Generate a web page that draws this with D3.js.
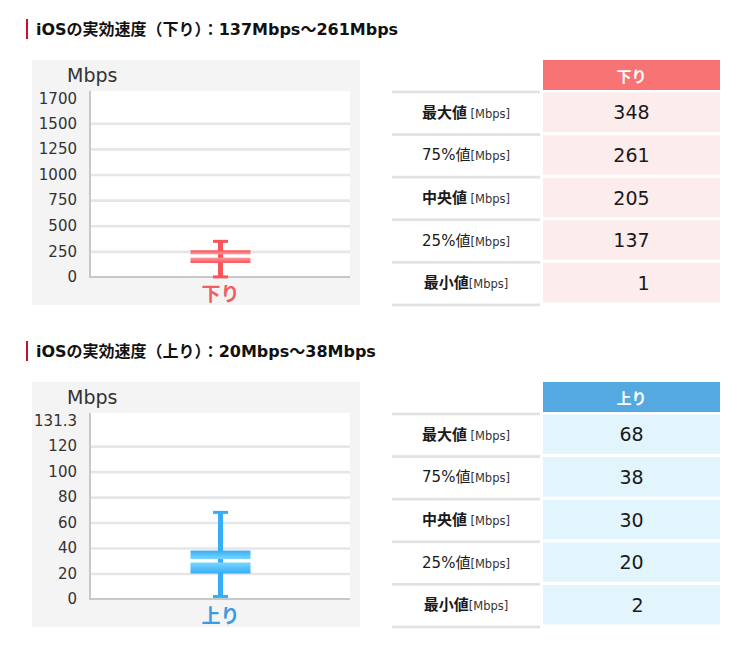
<!DOCTYPE html>
<html>
<head>
<meta charset="utf-8">
<script src="https://cdn.jsdelivr.net/npm/d3@7"></script>
<style>
  html, body { margin: 0; padding: 0; background: #fff; }
  svg { display: block; }
</style>
</head>
<body>
<div id="chart"></div>
<script>
// values
const statNames = ["最大値", "75%値", "中央値", "25%値", "最小値"];
const statUnits = [" [Mbps]", "[Mbps]", " [Mbps]", "[Mbps]", "[Mbps]"];
const directions = ["下り", "上り"];
const downStats = [348, 261, 205, 137, 1];
const upStats = [68, 38, 30, 20, 2];
const downTicks = [0, 250, 500, 750, 1000, 1250, 1500];
const upTicks = [0, 20, 40, 60, 80, 100, 120];
const downTopLabel = "1700";
const upTopLabel = "131.3";
const downAxisMax = 1815;
const upAxisMax = 146;

const width = 745;
const height = 654;

const svg = d3.select("#chart")
    .append("svg")
    .attr("width", width)
    .attr("height", height);

const defs = svg.append("defs");

const latin = "'DejaVu Sans', 'Noto Sans CJK JP', sans-serif";
const cjk = "'Noto Sans CJK JP', sans-serif";
const boldStats = new Set(["最大値", "中央値", "最小値"]);

const sections = [
    { dir: directions[0], stats: downStats, ticks: downTicks, top: downTopLabel, max: downAxisMax,
      dy: 0, head: "#f87373", cell: "#fdecec", dark: "#f7555b", light: "#ff9799", label: "#f25d61", key: "down" },
    { dir: directions[1], stats: upStats, ticks: upTicks, top: upTopLabel, max: upAxisMax,
      dy: 322, head: "#55a9e1", cell: "#e2f4fc", dark: "#36adf7", light: "#78d6ff", label: "#3d9be2", key: "up" }
];

// split a string into ascii / non-ascii runs so each gets its own font
const runs = str => str.match(/[\x00-\x7f]+|[^\x00-\x7f]+/g);

sections.forEach(s => {
    const g = svg.append("g").attr("transform", `translate(0,${s.dy})`);
    const [max, q3, med, q1, min] = s.stats;

    // title
    g.append("rect")
        .attr("x", 26).attr("y", 19)
        .attr("width", 2).attr("height", 20)
        .style("fill", "#c8102e");
    g.append("text")
        .attr("x", 36).attr("y", 34.5)
        .style("font-weight", "bold")
        .style("font-size", "16px")
        .style("fill", "#111")
        .selectAll("tspan")
        .data(runs(`iOSの実効速度（${s.dir}）：${q1}Mbps～${q3}Mbps`))
        .join("tspan")
        .style("font-family", d => /^[\x00-\x7f]/.test(d) ? latin : cjk)
        .text(d => d);

    // chart panel
    g.append("rect")
        .attr("x", 32).attr("y", 60)
        .attr("width", 328).attr("height", 245)
        .style("fill", "#f4f4f4");

    const plotTop = 91, plotBottom = 277, plotLeft = 91, plotRight = 350;
    g.append("rect")
        .attr("x", plotLeft).attr("y", plotTop)
        .attr("width", plotRight - plotLeft).attr("height", plotBottom - plotTop)
        .style("fill", "#fff");

    g.append("text")
        .attr("x", 67).attr("y", 82)
        .style("font-family", latin)
        .style("font-size", "19px")
        .style("fill", "#333")
        .text("Mbps");

    const y = d3.scaleLinear().domain([0, s.max]).range([plotBottom, plotTop]);
    const x = d3.scaleBand().domain([s.dir]).range([plotLeft, plotRight]);

    const axis = g.append("g")
        .attr("transform", `translate(${plotLeft},0)`)
        .call(d3.axisLeft(y)
            .tickValues(s.ticks)
            .tickFormat(d3.format("d"))
            .tickSize(-(plotRight - plotLeft))
            .tickPadding(14));
    axis.select(".domain").remove();
    axis.selectAll(".tick line")
        .style("stroke", "#e6e6e6")
        .style("stroke-width", 2.6)
        .style("display", d => d === 0 ? "none" : null);
    axis.selectAll(".tick text")
        .style("font-family", latin)
        .style("font-size", "15px")
        .style("fill", "#333");

    g.append("text")
        .attr("x", plotLeft - 14).attr("y", y(s.max) + 7.5)
        .attr("text-anchor", "end")
        .attr("dominant-baseline", "central")
        .style("font-family", latin)
        .style("font-size", "15px")
        .style("fill", "#333")
        .text(s.top);

    // axis lines
    g.append("line")
        .attr("x1", plotLeft - 1).attr("x2", plotLeft - 1)
        .attr("y1", plotTop).attr("y2", plotBottom + 1)
        .style("stroke", "#c8c8c8").style("stroke-width", 2);
    g.append("line")
        .attr("x1", plotLeft - 2).attr("x2", plotRight)
        .attr("y1", plotBottom).attr("y2", plotBottom)
        .style("stroke", "#c8c8c8").style("stroke-width", 2);

    // box gradients
    const gradTop = defs.append("linearGradient")
        .attr("id", `grad-top-${s.key}`).attr("x1", 0).attr("y1", 0).attr("x2", 0).attr("y2", 1);
    gradTop.append("stop").attr("offset", "0%").attr("stop-color", s.dark);
    gradTop.append("stop").attr("offset", "100%").attr("stop-color", s.light);
    const gradBot = defs.append("linearGradient")
        .attr("id", `grad-bot-${s.key}`).attr("x1", 0).attr("y1", 0).attr("x2", 0).attr("y2", 1);
    gradBot.append("stop").attr("offset", "0%").attr("stop-color", s.light);
    gradBot.append("stop").attr("offset", "100%").attr("stop-color", s.dark);

    const cx = x(s.dir) + x.bandwidth() / 2;
    const boxW = 60, capW = 15, gap = 1.7;

    // whisker
    g.append("rect")
        .attr("x", cx - 2.5).attr("y", y(max))
        .attr("width", 5).attr("height", y(min) - y(max))
        .style("fill", s.dark);
    [max, min].forEach(v => {
        g.append("rect")
            .attr("x", cx - capW / 2).attr("y", y(v) - 1.5)
            .attr("width", capW).attr("height", 3)
            .style("fill", s.dark);
    });

    // box halves
    g.append("rect")
        .attr("x", cx - boxW / 2).attr("y", y(q3))
        .attr("width", boxW).attr("height", Math.max(1, y(med) - gap - y(q3)))
        .style("fill", `url(#grad-top-${s.key})`);
    g.append("rect")
        .attr("x", cx - boxW / 2).attr("y", y(med) + gap)
        .attr("width", boxW).attr("height", Math.max(1, y(q1) - y(med) - gap))
        .style("fill", `url(#grad-bot-${s.key})`);

    g.append("text")
        .attr("x", cx).attr("y", 292)
        .attr("text-anchor", "middle")
        .attr("dominant-baseline", "central")
        .style("font-family", cjk)
        .style("font-weight", "bold")
        .style("font-size", "19px")
        .style("fill", s.label)
        .text(s.dir);

    // table
    const labelX0 = 392, labelX1 = 540, valX0 = 543, valX1 = 720;
    const valCx = (valX0 + valX1) / 2;
    g.append("rect")
        .attr("x", valX0).attr("y", 60)
        .attr("width", valX1 - valX0).attr("height", 30)
        .style("fill", s.head);
    g.append("text")
        .attr("x", valCx).attr("y", 75)
        .attr("text-anchor", "middle")
        .attr("dominant-baseline", "central")
        .style("font-family", cjk)
        .style("font-weight", "bold")
        .style("font-size", "15px")
        .style("fill", "#fff")
        .text(s.dir);

    const rows = d3.scaleBand().domain(d3.range(statNames.length)).range([92, 305]);
    const digits = d3.max(s.stats, v => String(v).length);

    g.selectAll(".sep")
        .data(d3.range(statNames.length + 1))
        .join("rect")
        .attr("x", labelX0)
        .attr("y", i => 92 + i * rows.step() - 1.4)
        .attr("width", labelX1 - labelX0)
        .attr("height", 2.7)
        .style("fill", "#e2e2e2");

    g.selectAll(".cell")
        .data(s.stats)
        .join("rect")
        .attr("x", valX0)
        .attr("y", (d, i) => rows(i) + 0.6)
        .attr("width", valX1 - valX0)
        .attr("height", rows.bandwidth() - 3.2)
        .style("fill", s.cell);

    g.selectAll(".val")
        .data(s.stats)
        .join("text")
        .attr("x", valCx)
        .attr("y", (d, i) => rows(i) + rows.bandwidth() / 2 - 1)
        .attr("text-anchor", "middle")
        .attr("dominant-baseline", "central")
        .style("font-family", latin)
        .style("font-size", "19px")
        .style("fill", "#1a1a1a")
        .text(d => String(d).padStart(digits, "\u2007"));

    const lab = g.selectAll(".lab")
        .data(statNames)
        .join("text")
        .attr("x", (labelX0 + labelX1) / 2)
        .attr("y", (d, i) => rows(i) + rows.bandwidth() / 2 + 4.5)
        .attr("text-anchor", "middle")
        .style("fill", "#1a1a1a");
    lab.append("tspan")
        .style("font-family", latin)
        .style("font-size", "15px")
        .style("font-weight", d => boldStats.has(d) ? "bold" : "normal")
        .text(d => d);
    lab.append("tspan")
        .style("font-family", latin)
        .style("font-size", "11.5px")
        .style("fill", "#333")
        .text((d, i) => statUnits[i]);
});
</script>
</body>
</html>
